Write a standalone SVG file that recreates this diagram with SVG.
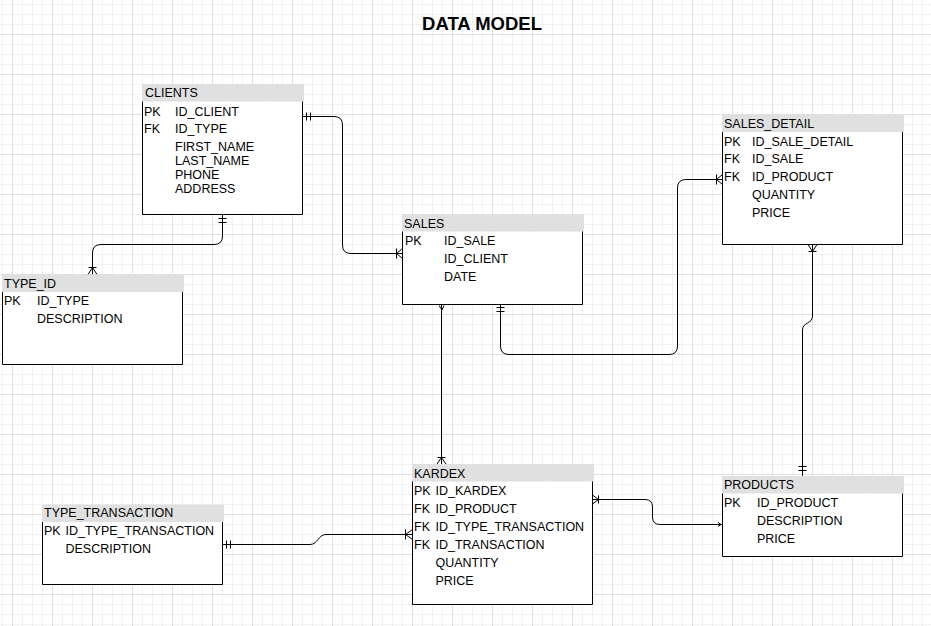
<svg xmlns="http://www.w3.org/2000/svg" width="931" height="626" viewBox="0 0 931 626">
<defs>
<pattern id="minor" x="2" y="4" width="10" height="10" patternUnits="userSpaceOnUse">
<path d="M0.5 0V10M0 0.5H10" stroke="#f2f2f2" stroke-width="1" fill="none"/>
</pattern>
<pattern id="major" x="12" y="34" width="40" height="40" patternUnits="userSpaceOnUse">
<path d="M0.5 0V40M0 0.5H40" stroke="#e0e0e0" stroke-width="1" fill="none"/>
</pattern>
<style>
text{font-family:"Liberation Sans",Arial,sans-serif;font-size:12.5px;fill:#000}
.title{font-weight:bold;font-size:18.5px}
.hdr{fill:#e0e0e0}
.box{fill:#fff;stroke:#000;stroke-width:1}
.body{fill:none;stroke:#000;stroke-width:1}
.c{fill:none;stroke:#000;stroke-width:1}
</style>
</defs>
<rect width="931" height="626" fill="#fff"/>
<rect width="931" height="626" fill="url(#minor)"/>
<rect width="931" height="626" fill="url(#major)"/>
<text class="title" x="482" y="30" text-anchor="middle">DATA MODEL</text>

<g id="connectors">
<!-- CLIENTS -> SALES -->
<path class="c" d="M302.5 116.5H334Q342.5 116.5 342.5 125V245Q342.5 253.5 351 253.5H402.5"/>
<path class="c" d="M306.5 112.5V120.5M310.5 112.5V120.5"/>
<path class="c" d="M396.5 248.5V258.5M396.5 253.5L402.5 248.5M396.5 253.5L402.5 258.5"/>
<!-- CLIENTS -> TYPE_ID -->
<path class="c" d="M222.5 214.5V236Q222.5 244.5 214 244.5H101Q92.5 244.5 92.5 253V274.5"/>
<path class="c" d="M218.5 218.5H226.5M218.5 222.5H226.5"/>
<path class="c" d="M88.5 267.5H96.5M92.5 267.5L88 274.5M92.5 267.5L97 274.5"/>
<!-- SALES -> SALES_DETAIL -->
<path class="c" d="M500.5 304.5V346Q500.5 354.5 509 354.5H669Q677.5 354.5 677.5 346V188Q677.5 179.5 686 179.5H722.5"/>
<path class="c" d="M496.5 307.5H504.5M496.5 311.5H504.5"/>
<path class="c" d="M716.5 174.5V184.5M716.5 179.5L722.5 174.5M716.5 179.5L722.5 184.5"/>
<!-- SALES_DETAIL -> PRODUCTS -->
<path class="c" d="M812.5 244.5V316C812.5 324 802.5 322 802.5 330V476"/>
<path class="c" d="M808.5 251.5H816.5M812.5 251.5L808 244.5M812.5 251.5L817 244.5"/>
<path class="c" d="M798.5 466.5H806.5M798.5 470.5H806.5"/>
<!-- SALES -> KARDEX -->
<path class="c" d="M441.5 304.5V464"/>
<path class="c" d="M439.5 305.5L440.5 308.5M444 305.5L442 310"/>
<path class="c" d="M437.5 457.5H445.5M441.5 457.5L437 464M441.5 457.5L446 464"/>
<!-- KARDEX -> PRODUCTS -->
<path class="c" d="M592.5 499.5H645Q652.5 499.5 652.5 507V517Q652.5 524.5 660 524.5H722.5"/>
<path class="c" d="M598.5 495.5V503.5M598.5 499.5L592.5 495M598.5 499.5L592.5 504"/>
<path class="c" d="M718 522.5L721 524.5L718 526.5"/>
<!-- TYPE_TRANSACTION -> KARDEX -->
<path class="c" d="M222.5 544.5H310C318 544.5 318 534.5 326 534.5H412.5"/>
<path class="c" d="M226.5 540.5V548.5M230.5 540.5V548.5"/>
<path class="c" d="M405.5 529.5V539.5M405.5 534.5L412.5 529.5M405.5 534.5L412.5 539.5"/>
</g>

<g id="clients">
<rect class="hdr" x="142" y="84" width="162" height="17.5"/>
<path class="body" d="M142.5 101.5V214.5H302.5V101.5"/>
<rect x="143" y="102" width="159" height="112" fill="#fff"/>
<text x="145" y="97">CLIENTS</text>
<text x="144" y="115.5">PK</text><text x="175" y="115.5">ID_CLIENT</text>
<text x="144" y="132.5">FK</text><text x="175" y="132.5">ID_TYPE</text>
<text x="175" y="150.5">FIRST_NAME</text>
<text x="175" y="164.5">LAST_NAME</text>
<text x="175" y="178.5">PHONE</text>
<text x="175" y="192.5">ADDRESS</text>
</g>

<g id="type_id">
<rect class="hdr" x="2" y="274.5" width="182" height="17.5"/>
<rect x="3" y="292" width="179" height="72" fill="#fff"/>
<path class="body" d="M2.5 292V364.5H182.5V292"/>
<text x="4" y="287.5">TYPE_ID</text>
<text x="4" y="304.5">PK</text><text x="37" y="304.5">ID_TYPE</text>
<text x="37" y="322.5">DESCRIPTION</text>
</g>

<g id="sales">
<rect class="hdr" x="402" y="214" width="182" height="17.5"/>
<rect x="403" y="232" width="179" height="72" fill="#fff"/>
<path class="body" d="M402.5 231.5V304.5H582.5V231.5"/>
<text x="404" y="227.5">SALES</text>
<text x="405" y="245">PK</text><text x="444" y="245">ID_SALE</text>
<text x="444" y="262.5">ID_CLIENT</text>
<text x="444" y="280.5">DATE</text>
</g>

<g id="sales_detail">
<rect class="hdr" x="722" y="114.5" width="182" height="17.5"/>
<rect x="723" y="132" width="179" height="112" fill="#fff"/>
<path class="body" d="M722.5 132V244.5H902.5V132"/>
<text x="724" y="127.5">SALES_DETAIL</text>
<text x="724" y="145.5">PK</text><text x="752" y="145.5">ID_SALE_DETAIL</text>
<text x="724" y="162.5">FK</text><text x="752" y="162.5">ID_SALE</text>
<text x="724" y="180.5">FK</text><text x="752" y="180.5">ID_PRODUCT</text>
<text x="752" y="198.5">QUANTITY</text>
<text x="752" y="216.5">PRICE</text>
</g>

<g id="kardex">
<rect class="hdr" x="412" y="464" width="182" height="17.5"/>
<rect x="413" y="482" width="179" height="122" fill="#fff"/>
<path class="body" d="M412.5 481.5V604.5H592.5V481.5"/>
<text x="414" y="477.5">KARDEX</text>
<text x="414" y="495">PK</text><text x="435.5" y="495">ID_KARDEX</text>
<text x="414" y="512.5">FK</text><text x="435.5" y="512.5">ID_PRODUCT</text>
<text x="414" y="530.5">FK</text><text x="435.5" y="530.5">ID_TYPE_TRANSACTION</text>
<text x="414" y="548.5">FK</text><text x="435.5" y="548.5">ID_TRANSACTION</text>
<text x="435.5" y="566.5">QUANTITY</text>
<text x="435.5" y="584.5">PRICE</text>
</g>

<g id="type_transaction">
<rect class="hdr" x="42" y="504.5" width="182" height="17.5"/>
<rect x="43" y="522" width="179" height="62" fill="#fff"/>
<path class="body" d="M42.5 522V584.5H222.5V522"/>
<text x="44" y="517">TYPE_TRANSACTION</text>
<text x="44" y="534.5">PK</text><text x="65.5" y="534.5">ID_TYPE_TRANSACTION</text>
<text x="65.5" y="552.5">DESCRIPTION</text>
</g>

<g id="products">
<rect class="hdr" x="722" y="476" width="182" height="17.5"/>
<rect x="723" y="494" width="179" height="62" fill="#fff"/>
<path class="body" d="M722.5 493.5V556.5H902.5V493.5"/>
<text x="724" y="489">PRODUCTS</text>
<text x="724" y="506.5">PK</text><text x="757" y="506.5">ID_PRODUCT</text>
<text x="757" y="524.5">DESCRIPTION</text>
<text x="757" y="542.5">PRICE</text>
</g>
</svg>
